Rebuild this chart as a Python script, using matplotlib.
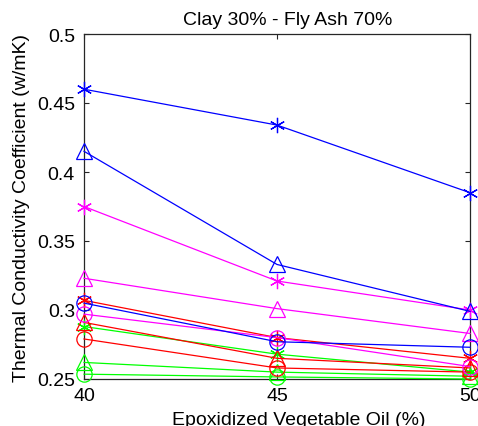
import matplotlib
matplotlib.use("Agg")
import matplotlib.pyplot as plt
from matplotlib.ticker import FixedLocator, FixedFormatter

plt.rcParams['font.family'] = ['Liberation Sans', 'DejaVu Sans']

oil = [40, 45, 50]

# thermal conductivity (w/mK) per mix series
blue_star = [0.460, 0.434, 0.385]
blue_tri = [0.415, 0.333, 0.299]
blue_circ = [0.305, 0.277, 0.273]
mag_star = [0.375, 0.321, 0.300]
mag_tri = [0.323, 0.301, 0.283]
mag_circ = [0.297, 0.280, 0.259]
red_star = [0.307, 0.280, 0.265]
red_tri = [0.291, 0.265, 0.258]
red_circ = [0.279, 0.258, 0.255]
green_star = [0.288, 0.268, 0.255]
green_tri = [0.262, 0.255, 0.252]
green_circ = [0.2535, 0.2515, 0.250]

y_ticks = [0.25, 0.30, 0.35, 0.40, 0.45, 0.50]
y_tick_labels = ['0.25', '0.3', '0.35', '0.4', '0.45', '0.5']
x_ticks = [40, 45, 50]
x_tick_labels = ['40', '45', '50']

series = [
    (green_circ, '#00ff00', 'o'),
    (green_tri, '#00ff00', '^'),
    (green_star, '#00ff00', '*'),
    (red_circ, '#ff0000', 'o'),
    (red_tri, '#ff0000', '^'),
    (red_star, '#ff0000', '*'),
    (mag_circ, '#ff00ff', 'o'),
    (mag_tri, '#ff00ff', '^'),
    (mag_star, '#ff00ff', '*'),
    (blue_circ, '#0000ff', 'o'),
    (blue_tri, '#0000ff', '^'),
    (blue_star, '#0000ff', '*'),
]

fig = plt.figure(figsize=(4.78, 4.27), dpi=100)
ax = fig.add_axes([84 / 478, 47 / 427, 386 / 478, 345 / 427])

for vals, col, mk in series:
    if mk == '*':
        ax.plot(oil, vals, color=col, lw=0.9, marker=(6, 2, 0), ms=11,
                mew=0.9, clip_on=False, zorder=3)
    else:
        ax.plot(oil, vals, color=col, lw=0.9, marker=mk, ms=12 if mk == '^' else 11,
                mfc='none', mec=col, mew=0.9, clip_on=False, zorder=3)

ax.set_xlim(40, 50)
ax.set_ylim(0.25, 0.5)
ax.xaxis.set_major_locator(FixedLocator(x_ticks))
ax.xaxis.set_major_formatter(FixedFormatter(x_tick_labels))
ax.yaxis.set_major_locator(FixedLocator(y_ticks))
ax.yaxis.set_major_formatter(FixedFormatter(y_tick_labels))
ax.tick_params(direction='in', top=True, right=True, length=3.6, width=0.8,
               labelsize=14, colors='#262626', labelcolor='black')
ax.tick_params(axis='y', pad=6.5)
ax.tick_params(axis='x', pad=5.5)
for s in ax.spines.values():
    s.set_linewidth(0.9)
    s.set_color('#262626')

ax.set_title('Clay 30% - Fly Ash 70%', fontsize=14, pad=7, x=0.528)
ax.set_xlabel('Epoxidized Vegetable Oil (%)', fontsize=14)
ax.xaxis.set_label_coords(0.557, -0.093)
ax.set_ylabel('Thermal Conductivity Coefficient (w/mK)', fontsize=14)
ax.yaxis.set_label_coords(-0.14, 0.5)

fig.savefig('out.png', dpi=100, facecolor='white')
